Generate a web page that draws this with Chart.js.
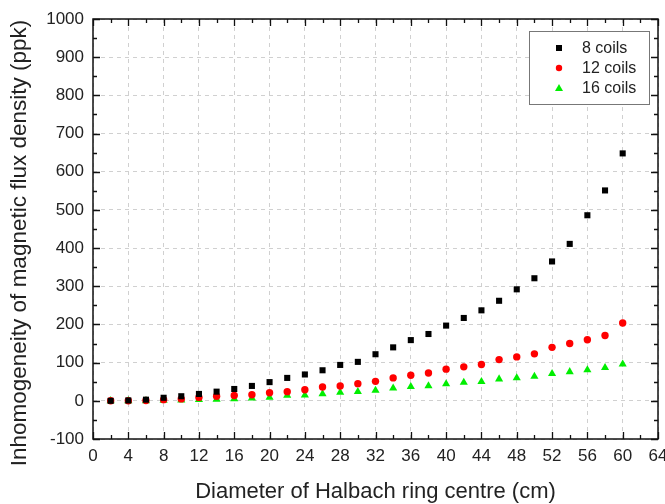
<!DOCTYPE html>
<html><head><meta charset="utf-8">
<script src="https://cdn.jsdelivr.net/npm/chart.js@4/dist/chart.umd.min.js"></script>
<style>html,body{margin:0;padding:0;background:#fff;overflow:hidden}</style>
</head><body>
<canvas id="c" width="665" height="504"></canvas>
<script>
const diameters = [2,4,6,8,10,12,14,16,18,20,22,24,26,28,30,32,34,36,38,40,42,44,46,48,50,52,54,56,58,60];
const coils8  = [0,1,3,8,12,18,24,31,39,49,60,69,80,94,102,122,140,159,175,197,217,237,262,292,321,365,411,486,551,648];
const coils12 = [0,0,1,3,5,9,12,14,16,21,24,29,36,39,45,51,60,67,73,83,89,95,108,115,123,140,150,160,171,204];
const coils16 = [0,0,0,1,2,3,4,5,7,9,14,15,18,22,24,27,33,37,39,44,48,50,57,60,64,71,76,81,87,96];
const seriesNames = ['8 coils','12 coils','16 coils'];
const xTickValues = [0,4,8,12,16,20,24,28,32,36,40,44,48,52,56,60,64];
const yTickValues = [-100,0,100,200,300,400,500,600,700,800,900,1000];
const xTitle = 'Diameter of Halbach ring centre (cm)';
const yTitle = 'Inhomogeneity of magnetic flux density (ppk)';

const FONT = "'Liberation Sans', Arial, sans-serif";
const toPts = ys => diameters.map((x,i)=>({x:x,y:ys[i]}));

const framePlugin = {
  id:'frame',
  afterDraw(chart){
    const ctx = chart.ctx, a = chart.chartArea;
    const xs = chart.scales.x, ys = chart.scales.y;
    ctx.save();
    ctx.strokeStyle = '#111';
    ctx.lineWidth = 1.5;
    ctx.strokeRect(a.left, a.top, a.right-a.left, a.bottom-a.top);
    ctx.lineWidth = 1.3;
    ctx.beginPath();
    for (let v = xs.min; v <= xs.max; v += 2) {
      const p = Math.round(xs.getPixelForValue(v)) + 0.5;
      const L = (v % 4 === 0) ? 7 : 4;
      ctx.moveTo(p, a.bottom); ctx.lineTo(p, a.bottom - L);
      ctx.moveTo(p, a.top); ctx.lineTo(p, a.top + L);
    }
    for (let v = ys.min; v <= ys.max; v += 50) {
      const p = Math.round(ys.getPixelForValue(v)) + 0.5;
      const L = (v % 100 === 0) ? 7 : 4;
      ctx.moveTo(a.left, p); ctx.lineTo(a.left + L, p);
      ctx.moveTo(a.right, p); ctx.lineTo(a.right - L, p);
    }
    ctx.stroke();

    // y-axis title (rotated)
    ctx.save();
    ctx.translate(20, 243);
    ctx.rotate(-Math.PI / 2);
    ctx.font = '22.5px ' + FONT;
    ctx.fillStyle = '#222';
    ctx.textAlign = 'center';
    ctx.textBaseline = 'middle';
    ctx.fillText(yTitle, 0, 0);
    ctx.restore();

    // legend box
    const bw = 120, bh = 73;
    const bx = a.right - 9 - bw, by = a.top + 12;
    ctx.fillStyle = '#fff';
    ctx.fillRect(bx, by, bw, bh);
    ctx.strokeStyle = '#777';
    ctx.lineWidth = 1;
    ctx.strokeRect(bx + 0.5, by + 0.5, bw, bh);
    ctx.font = '16px ' + FONT;
    ctx.textBaseline = 'middle';
    ctx.textAlign = 'left';
    chart.data.datasets.forEach((ds, i) => {
      const cy = by + 17 + i * 20;
      const cx = bx + 30;
      ctx.fillStyle = ds.backgroundColor;
      ctx.beginPath();
      if (ds.pointStyle === 'rect') {
        ctx.rect(cx - 3, cy - 3, 6, 6);
      } else if (ds.pointStyle === 'circle') {
        ctx.arc(cx, cy, 3.2, 0, Math.PI * 2);
      } else {
        ctx.moveTo(cx, cy - 4); ctx.lineTo(cx + 4, cy + 3); ctx.lineTo(cx - 4, cy + 3); ctx.closePath();
      }
      ctx.fill();
      ctx.fillStyle = '#222';
      ctx.fillText(ds.label, bx + 53, cy + 1);
    });
    ctx.restore();
  }
};

new Chart(document.getElementById('c'), {
  type: 'scatter',
  data: {
    datasets: [
      {label: seriesNames[0], data: toPts(coils8), pointStyle:'rect', pointRadius:4.3, backgroundColor:'#000', borderColor:'#000', borderWidth:0},
      {label: seriesNames[1], data: toPts(coils12), pointStyle:'circle', pointRadius:3.7, backgroundColor:'#ff0000', borderColor:'#ff0000', borderWidth:0},
      {label: seriesNames[2], data: toPts(coils16), pointStyle:'triangle', pointRadius:4.7, backgroundColor:'#00ee00', borderColor:'#00ee00', borderWidth:0}
    ]
  },
  options: {
    responsive: false,
    animation: false,
    devicePixelRatio: 1,
    layout: {padding: {left: 0, top: 19, right: 7, bottom: 0}},
    plugins: {legend: {display: false}, tooltip: {enabled: false}},
    scales: {
      x: {
        type: 'linear', min: 0, max: 64,
        afterBuildTicks: s => { s.ticks = xTickValues.map(v => ({value: v})); },
        afterFit: s => { s.height = 65; s.paddingLeft = 0; s.paddingRight = 0; },
        ticks: {font: {family: FONT, size: 17}, color: '#222', padding: 7, maxRotation: 0, callback: v => String(v)},
        grid: {color: '#d0d0d0', lineWidth: 1, drawTicks: false},
        border: {display: false, dash: [4, 4]},
        title: {display: true, text: xTitle, font: {family: FONT, size: 22}, color: '#222', padding: {top: 0, bottom: -1}}
      },
      y: {
        type: 'linear', min: -100, max: 1000,
        afterBuildTicks: s => { s.ticks = yTickValues.map(v => ({value: v})); },
        afterFit: s => { s.width = 93; s.paddingTop = 0; s.paddingBottom = 0; },
        ticks: {font: {family: FONT, size: 17}, color: '#222', padding: 9, callback: v => String(v)},
        grid: {color: '#d0d0d0', lineWidth: 1, drawTicks: false},
        border: {display: false, dash: [4, 4]},
        title: {display: false}
      }
    }
  },
  plugins: [framePlugin]
});
</script>
</body></html>
